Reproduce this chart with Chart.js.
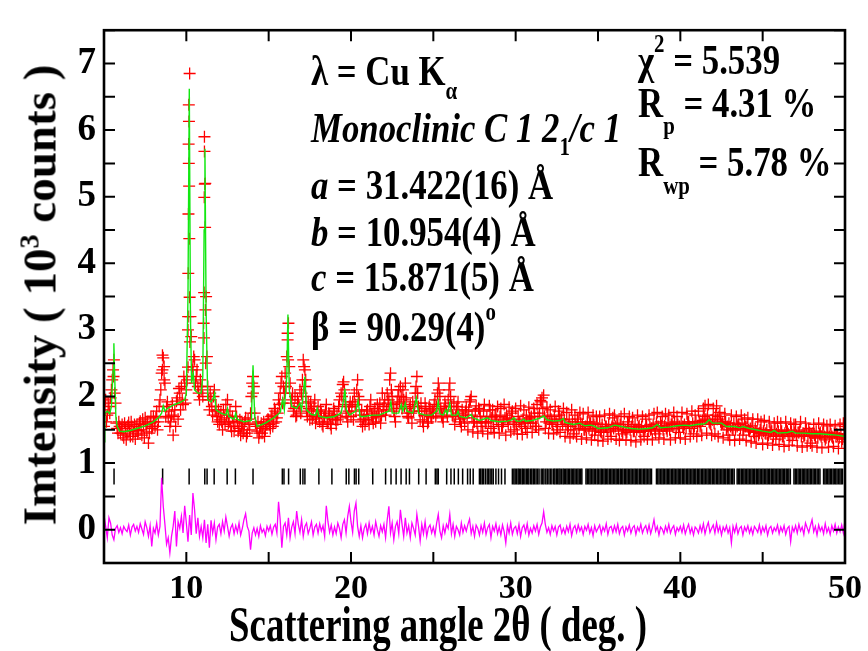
<!DOCTYPE html>
<html>
<head>
<meta charset="utf-8">
<script src="https://cdn.jsdelivr.net/npm/chart.js@4.4.1/dist/chart.umd.min.js"></script>
<style>
  html, body { margin: 0; padding: 0; background: #fff; }
  #wrap { position: relative; width: 868px; height: 651px; overflow: hidden; }
  #xrd { position: absolute; left: 0; top: 0; width: 868px; height: 651px; }
  .t {
    position: absolute; white-space: nowrap; color: #000;
    font-family: "Liberation Serif", "Times New Roman", serif;
    font-weight: bold; font-size: 40px; line-height: 1;
    transform-origin: 0 33.5px; transform: scale(0.87, 1.08);
  }
  .it { font-style: italic; }
  .sb { position: relative; font-size: 0.6em; }
  .xt {
    position: absolute; white-space: nowrap; color: #000;
    font-family: "Liberation Serif", "Times New Roman", serif;
    font-weight: bold; font-size: 46px; line-height: 1;
    left: 438px; top: 602.5px;
    transform-origin: 50% 38.5px; transform: translateX(-50%) scale(0.8, 1.12);
  }
  .yt {
    position: absolute; white-space: nowrap; color: #000;
    font-family: "Liberation Serif", "Times New Roman", serif;
    font-weight: bold; font-size: 47px; line-height: 1;
    left: 40px; top: 295px;
    transform: translate(-50%, -50%) rotate(-90deg);
  }
</style>
</head>
<body>
<div id="wrap">
  <canvas id="xrd" width="868" height="651"></canvas>

  <div class="t" style="left:311px;top:51.5px">λ = Cu K<span class="sb" style="top:13px">α</span></div>
  <div class="t it" style="left:311px;top:108.5px">Monoclinic C 1 2<span class="sb" style="top:12px;font-style:normal">1</span>/c 1</div>
  <div class="t" style="left:311px;top:166px"><i>a</i> = 31.422(16) Å</div>
  <div class="t" style="left:311px;top:212.5px"><i>b</i> = 10.954(4) Å</div>
  <div class="t" style="left:311px;top:257.5px"><i>c</i> = 15.871(5) Å</div>
  <div class="t" style="left:311px;top:307.5px">β = 90.29(4)<span class="sb" style="top:-19px">o</span></div>

  <div class="t" style="left:638px;top:40.5px">χ<span class="sb" style="top:-20px">2</span> = 5.539</div>
  <div class="t" style="left:638px;top:83.5px">R<span class="sb" style="top:16px">p</span> = 4.31 %</div>
  <div class="t" style="left:638px;top:142.5px">R<span class="sb" style="top:17px">wp</span> = 5.78 %</div>

  <div class="xt">Scattering angle 2θ ( deg. )</div>
  <div class="yt">Imtensity ( 10<span class="sb" style="top:-17px">3</span> counts )</div>
</div>

<script>
// calculated profile, [2theta, 10^3 counts]
const calcCurve = [
  [5.00,1.32],[5.05,1.75],[5.20,1.78],[5.35,1.74],[5.45,1.85],[5.55,2.40],[5.60,2.80],[5.65,2.30],[5.72,1.70],[5.80,1.55],
  [5.95,1.48],[6.20,1.47],[6.60,1.49],[7.00,1.52],[7.50,1.56],[8.00,1.62],[8.30,1.68],[8.50,1.75],[8.60,1.86],[8.70,1.78],
  [8.85,1.82],[9.20,1.87],[9.60,1.91],[9.90,1.95],[10.00,2.05],[10.10,3.50],[10.18,6.62],[10.25,3.20],[10.32,2.20],[10.42,2.35],
  [10.50,2.10],[10.70,2.05],[10.90,2.05],[11.00,2.30],[11.08,4.50],[11.13,5.72],[11.20,3.30],[11.30,1.95],[11.50,1.92],[11.65,1.98],
  [11.72,2.05],[11.80,1.80],[12.10,1.75],[12.40,1.72],[12.50,1.82],[12.58,1.70],[12.90,1.66],[13.00,1.75],[13.08,1.66],[13.50,1.62],
  [13.95,1.64],[14.05,2.47],[14.15,1.70],[14.30,1.55],[14.80,1.60],[15.30,1.68],[15.70,1.76],[15.85,1.96],[15.95,1.80],[16.10,2.30],
  [16.17,3.23],[16.25,2.10],[16.40,1.85],[16.70,1.82],[16.90,1.90],[17.00,1.80],[17.20,2.30],[17.30,1.80],[17.60,1.73],[17.85,1.72],
  [17.95,1.82],[18.05,1.70],[18.50,1.68],[19.00,1.70],[19.40,1.75],[19.55,1.95],[19.63,2.12],[19.72,1.80],[19.90,1.72],[20.30,1.78],
  [20.43,1.94],[20.55,1.70],[20.80,1.70],[21.30,1.72],[21.70,1.72],[22.00,1.75],[22.30,1.78],[22.42,1.92],[22.50,1.75],[22.90,1.75],
  [23.05,1.88],[23.15,1.78],[23.30,1.90],[23.40,1.78],[23.75,1.75],[23.97,1.98],[24.10,1.75],[24.50,1.72],[24.90,1.72],[25.20,1.78],
  [25.30,1.93],[25.40,1.74],[25.60,1.72],[25.75,1.80],[25.85,1.74],[26.00,1.90],[26.10,1.72],[26.40,1.72],[26.50,1.78],[26.60,1.70],
  [27.00,1.68],[27.30,1.73],[27.40,1.68],[27.80,1.64],[28.30,1.68],[28.50,1.64],[29.00,1.62],[29.50,1.63],[29.75,1.65],[29.90,1.68],
  [30.05,1.63],[30.30,1.63],[30.50,1.66],[30.60,1.63],[31.00,1.64],[31.50,1.68],[31.70,1.71],[31.90,1.65],[32.30,1.63],[32.70,1.64],
  [32.90,1.67],[33.00,1.61],[33.50,1.58],[33.90,1.60],[34.20,1.56],[34.60,1.57],[34.80,1.55],[35.00,1.52],[35.60,1.53],[36.00,1.57],
  [36.20,1.56],[36.60,1.54],[37.00,1.52],[37.50,1.51],[38.00,1.52],[38.30,1.53],[38.60,1.58],[38.80,1.53],[39.30,1.54],[39.80,1.56],
  [40.30,1.57],[40.60,1.56],[41.00,1.58],[41.50,1.59],[41.75,1.65],[41.95,1.60],[42.50,1.60],[42.80,1.55],[43.30,1.55],[43.60,1.53],
  [43.80,1.55],[44.20,1.52],[44.60,1.50],[45.00,1.48],[45.50,1.46],[45.70,1.49],[45.90,1.45],[46.50,1.46],[46.80,1.48],[47.00,1.45],
  [47.50,1.45],[48.00,1.44],[48.50,1.44],[49.00,1.43],[49.50,1.42],[50.00,1.40]
];

// observed counts on the 0.1 deg grid from 5 to 50 deg
const obsStart = 5.0;
const obsStep = 0.1;
const obsCounts = [
  1.55,1.95,1.72,1.85,1.98,2.25,2.55,1.90,1.52,1.62,
  1.45,1.58,1.38,1.52,1.44,1.61,1.40,1.55,1.47,1.36,
  1.58,1.49,1.63,1.42,1.55,1.68,1.47,1.30,1.60,1.52,
  1.70,1.55,1.78,1.62,1.95,2.35,2.58,2.20,1.85,1.68,
  1.55,1.72,1.42,1.80,1.93,1.66,2.05,2.15,1.88,2.20,
  2.10,3.00,6.85,2.90,2.45,2.55,2.30,2.15,1.95,2.10,
  2.00,5.90,3.50,2.15,1.80,1.95,1.72,2.10,1.85,1.62,
  1.58,1.75,1.50,1.68,1.88,1.95,1.62,1.55,1.70,1.48,
  1.85,1.62,1.52,1.42,1.60,1.50,1.68,1.45,1.58,1.75,
  2.20,2.15,1.60,1.48,1.38,1.55,1.45,1.62,1.50,1.58,
  1.65,1.52,1.72,1.60,1.78,1.68,1.95,2.05,2.30,2.15,
  2.35,2.60,3.10,2.20,1.95,1.78,2.00,1.72,1.90,2.10,
  2.05,2.55,2.15,1.78,1.92,1.65,1.80,1.72,1.95,1.68,
  1.85,1.62,1.75,1.55,1.70,1.88,1.60,1.72,1.52,1.66,
  1.78,1.58,1.65,1.95,2.05,2.18,2.10,1.75,1.62,1.85,
  1.70,1.92,2.05,1.78,2.25,1.95,1.62,1.55,1.72,1.65,
  1.80,1.58,1.95,1.68,1.75,1.62,1.88,1.70,1.60,2.05,
  1.85,1.72,2.05,1.95,2.35,2.00,1.78,1.62,1.90,2.10,
  2.15,1.82,1.95,2.20,1.75,1.68,1.88,1.60,1.78,2.05,
  2.30,1.85,1.65,1.78,1.55,1.90,1.72,1.62,1.80,1.68,
  1.75,1.95,1.85,2.20,2.00,1.72,1.62,1.90,1.78,1.95,
  2.20,1.85,1.70,1.58,1.80,1.92,1.66,1.55,1.72,1.60,
  1.84,1.50,1.92,2.00,1.47,1.62,1.86,1.45,1.80,1.55,
  1.48,1.88,1.62,1.44,1.86,1.52,1.80,1.46,1.70,1.85,
  1.45,1.82,1.55,1.88,1.42,1.66,1.84,1.47,1.78,1.50,
  1.82,1.44,1.62,1.86,1.43,1.80,1.52,1.46,1.84,1.60,
  1.46,1.82,1.55,1.88,1.50,1.94,1.98,2.02,1.52,1.84,
  1.45,1.80,1.62,1.44,1.85,1.50,1.78,1.46,1.66,1.82,
  1.40,1.76,1.55,1.38,1.80,1.44,1.72,1.40,1.62,1.76,
  1.36,1.74,1.50,1.38,1.76,1.62,1.35,1.72,1.42,1.70,
  1.34,1.70,1.46,1.33,1.72,1.55,1.36,1.74,1.40,1.68,
  1.72,1.36,1.58,1.34,1.70,1.44,1.74,1.35,1.62,1.70,
  1.34,1.68,1.48,1.32,1.72,1.56,1.35,1.70,1.40,1.66,
  1.36,1.72,1.50,1.35,1.74,1.44,1.76,1.38,1.62,1.70,
  1.36,1.74,1.48,1.72,1.35,1.60,1.76,1.38,1.70,1.46,
  1.38,1.76,1.52,1.36,1.74,1.62,1.40,1.78,1.44,1.72,
  1.40,1.78,1.55,1.42,1.82,1.86,1.45,1.88,1.60,1.42,
  1.82,1.44,1.86,1.40,1.76,1.58,1.38,1.74,1.50,1.42,
  1.35,1.72,1.50,1.34,1.70,1.58,1.36,1.72,1.42,1.66,
  1.34,1.68,1.48,1.32,1.66,1.40,1.30,1.66,1.45,1.62,
  1.28,1.64,1.44,1.30,1.62,1.50,1.27,1.60,1.36,1.62,
  1.28,1.60,1.40,1.25,1.62,1.48,1.27,1.60,1.34,1.58,
  1.58,1.26,1.46,1.62,1.24,1.40,1.60,1.26,1.52,1.30,
  1.26,1.58,1.38,1.24,1.60,1.46,1.23,1.58,1.35,1.56,
  1.24,1.58,1.40,1.25,1.56,1.44,1.22,1.58,1.32,1.60,
  1.55
];

// observed counts at the half-step points, 5.05 to 49.95 deg
const obsCountsMid = [
  1.80,1.62,1.90,1.75,2.10,2.40,2.05,1.60,1.45,1.55,
  1.52,1.42,1.60,1.35,1.56,1.48,1.62,1.40,1.58,1.50,
  1.44,1.60,1.50,1.66,1.38,1.58,1.62,1.45,1.70,1.55,
  1.62,1.68,1.50,1.85,2.10,2.62,2.45,1.70,1.92,1.78,
  1.62,1.88,1.70,1.55,1.98,2.12,1.80,1.95,2.30,1.90,
  2.25,5.50,3.20,2.40,2.60,2.20,2.40,2.05,2.25,2.15,
  3.10,5.20,2.60,1.95,2.05,1.85,2.00,1.78,1.70,1.80,
  1.65,1.62,1.80,1.58,1.72,1.60,1.78,1.48,1.62,1.55,
  1.70,1.48,1.65,1.55,1.45,1.62,1.40,1.66,1.50,2.00,
  2.30,1.75,1.55,1.62,1.45,1.60,1.52,1.40,1.58,1.66,
  1.58,1.70,1.55,1.82,1.62,1.75,1.88,2.20,1.90,2.05,
  2.15,2.95,2.45,1.90,2.05,1.82,1.70,1.95,1.85,1.75,
  2.25,2.45,2.00,1.70,1.82,1.90,1.66,1.85,1.60,1.78,
  1.70,1.80,1.58,1.68,1.78,1.62,1.75,1.58,1.70,1.82,
  1.65,1.72,1.85,1.68,2.00,2.22,1.88,1.70,1.78,1.92,
  1.85,1.65,1.88,2.10,2.00,1.72,1.80,1.66,1.58,1.78,
  1.65,1.85,1.72,1.60,1.82,1.70,1.78,1.90,1.72,1.80,
  1.95,1.80,1.90,2.25,2.10,1.88,1.70,1.82,2.00,1.92,
  2.00,2.10,1.85,1.98,1.70,1.82,1.75,1.92,1.85,2.15,
  2.05,1.78,1.90,1.62,1.72,1.82,1.60,1.85,1.70,1.78,
  1.88,1.70,2.05,2.10,1.82,1.68,1.80,1.85,1.70,2.10,
  2.00,1.72,1.90,1.70,1.85,1.75,1.62,1.80,1.68,1.78,
  1.68,1.80,1.95,1.72,1.62,1.78,1.60,1.82,1.70,1.62,
  1.78,1.60,1.70,1.62,1.80,1.68,1.55,1.72,1.65,1.58,
  1.70,1.55,1.62,1.68,1.72,1.58,1.66,1.75,1.62,1.58,
  1.58,1.70,1.62,1.55,1.66,1.60,1.72,1.62,1.68,1.70,
  1.60,1.75,1.55,1.70,1.75,1.92,1.82,1.70,1.62,1.72,
  1.60,1.66,1.58,1.70,1.62,1.55,1.72,1.66,1.58,1.65,
  1.58,1.50,1.66,1.55,1.62,1.50,1.58,1.66,1.52,1.60,
  1.58,1.50,1.55,1.62,1.52,1.60,1.48,1.58,1.50,1.60,
  1.52,1.48,1.58,1.46,1.55,1.50,1.58,1.48,1.55,1.52,
  1.55,1.60,1.50,1.58,1.48,1.55,1.50,1.46,1.58,1.50,
  1.55,1.48,1.58,1.50,1.54,1.46,1.55,1.48,1.50,1.56,
  1.48,1.55,1.52,1.58,1.50,1.60,1.55,1.48,1.56,1.50,
  1.56,1.52,1.60,1.50,1.58,1.55,1.62,1.52,1.58,1.55,
  1.60,1.55,1.58,1.52,1.62,1.55,1.52,1.60,1.55,1.62,
  1.55,1.62,1.58,1.64,1.70,1.66,1.72,1.62,1.58,1.65,
  1.60,1.72,1.66,1.70,1.62,1.60,1.58,1.62,1.55,1.60,
  1.55,1.52,1.60,1.50,1.55,1.58,1.52,1.60,1.50,1.55,
  1.55,1.50,1.52,1.56,1.46,1.52,1.48,1.42,1.50,1.45,
  1.48,1.45,1.50,1.42,1.46,1.48,1.40,1.50,1.44,1.48,
  1.42,1.48,1.40,1.45,1.50,1.44,1.40,1.48,1.42,1.46,
  1.42,1.46,1.48,1.40,1.45,1.42,1.50,1.40,1.46,1.42,
  1.45,1.42,1.48,1.38,1.44,1.40,1.46,1.40,1.38,1.46,
  1.40,1.44,1.38,1.45,1.40,1.42,1.38,1.44,1.36,1.42
];

// extra observed points on the steep sides of the strong peaks
const obsPeakPoints = [
  [10.15,6.38],[10.16,6.13],[10.14,5.79],[10.17,5.16],[10.13,4.74],[10.18,4.37],[10.12,3.85],[10.20,3.49],
  [10.11,3.20],[10.22,2.82],[10.10,2.44],[11.10,5.68],[11.12,5.19],[11.09,4.99],[11.14,4.54],[11.08,3.56],
  [11.16,3.30],[11.07,2.88],[11.18,2.50],[16.15,2.85],[16.18,2.55],[5.58,2.30],[8.55,2.40],[8.65,2.25],
  [14.05,2.05],[17.20,2.40],[17.25,2.25]
];

// difference curve (obs - calc), same grid as obsCounts
const diffCounts = [
  0.22,0.05,-0.12,0.18,0.10,-0.08,-0.15,0.02,0.06,-0.04,
  0.03,-0.06,0.05,0.00,-0.03,0.07,-0.08,0.04,0.08,-0.02,
  0.05,-0.04,0.09,0.01,-0.07,0.12,0.03,-0.10,0.06,-0.25,
  0.02,-0.05,0.10,-0.08,0.05,0.78,0.35,0.08,-0.22,-0.12,
  -0.35,-0.10,0.05,0.28,-0.25,0.12,0.02,0.20,-0.05,0.36,
  0.10,-0.18,0.22,-0.08,0.55,0.30,-0.06,0.18,-0.10,0.05,
  -0.12,0.15,-0.20,0.08,-0.27,0.14,-0.05,0.10,-0.15,0.04,
  0.08,-0.06,0.12,-0.02,0.19,0.05,-0.10,0.03,0.08,-0.06,
  0.06,-0.04,0.10,-0.08,0.02,0.15,0.24,0.05,-0.02,-0.30,
  -0.05,0.03,-0.08,0.02,-0.10,0.06,-0.04,0.01,-0.09,0.05,
  -0.02,0.06,-0.07,0.04,0.08,-0.05,0.42,0.15,-0.27,0.05,
  0.10,-0.08,0.18,-0.12,0.04,0.12,-0.06,0.28,0.08,-0.04,
  0.15,-0.10,0.05,0.10,-0.06,0.02,0.12,-0.08,0.04,0.08,
  -0.05,0.09,-0.02,0.06,-0.10,0.36,0.12,-0.04,0.07,-0.08,
  0.04,-0.06,0.10,0.02,-0.12,0.08,0.15,-0.05,0.20,0.35,
  0.12,-0.04,0.28,0.40,0.05,-0.10,0.06,-0.12,0.02,0.08,
  -0.06,0.10,-0.04,0.05,-0.08,0.12,0.00,-0.10,0.06,-0.03,
  0.08,-0.12,0.15,0.35,-0.05,0.10,-0.15,0.05,0.12,-0.06,
  0.30,0.08,-0.10,0.18,-0.05,0.06,-0.12,0.10,0.02,-0.08,
  0.23,0.05,-0.17,0.08,-0.06,0.12,-0.10,0.03,0.07,-0.05,
  0.04,-0.08,0.10,0.23,-0.02,-0.12,0.06,-0.05,0.08,0.02,
  0.23,-0.06,0.08,-0.10,0.05,0.00,-0.08,0.10,-0.04,0.06,
  -0.02,0.08,0.16,-0.06,0.05,-0.10,0.07,0.02,-0.08,0.06,
  -0.04,0.10,-0.07,0.03,0.08,-0.12,0.05,-0.02,0.09,-0.06,
  0.04,-0.08,0.07,-0.03,-0.20,0.06,-0.05,0.10,-0.07,0.02,
  0.05,-0.06,0.08,-0.10,0.03,0.07,-0.04,0.09,-0.08,0.02,
  -0.05,0.06,-0.02,0.08,-0.07,0.04,0.10,0.27,0.08,-0.04,
  0.03,-0.07,0.06,-0.02,0.05,-0.08,0.04,0.07,-0.05,0.02,
  -0.06,0.05,-0.03,0.08,-0.09,0.02,0.06,-0.04,0.07,-0.02,
  0.04,-0.07,0.05,-0.01,0.08,-0.05,0.03,-0.09,0.06,-0.03,
  0.02,0.07,-0.06,0.04,-0.02,0.09,-0.07,0.03,0.05,-0.04,
  0.06,-0.03,0.08,-0.06,0.02,0.05,-0.08,0.04,-0.02,0.07,
  -0.05,0.03,0.06,-0.07,0.04,-0.02,0.08,-0.05,0.02,0.06,
  -0.04,0.07,-0.06,0.03,0.15,-0.02,0.05,-0.08,0.04,0.01,
  -0.06,0.05,-0.03,0.08,-0.05,0.02,0.06,-0.07,0.03,-0.02,
  0.05,-0.04,0.07,-0.06,0.02,0.08,-0.05,0.03,-0.08,0.04,
  0.01,-0.05,0.06,-0.03,0.09,-0.06,0.04,0.11,-0.04,0.02,
  0.07,-0.05,0.10,-0.03,0.05,-0.08,0.04,-0.02,0.06,-0.05,
  0.03,-0.20,0.05,-0.04,0.07,-0.06,0.02,0.05,-0.08,0.04,
  -0.02,0.06,-0.05,0.03,-0.07,0.05,0.01,-0.04,0.07,-0.06,
  0.04,-0.03,0.06,-0.08,0.02,0.05,-0.05,0.03,-0.02,0.07,
  -0.06,0.04,-0.03,0.06,-0.07,0.02,0.05,-0.18,0.04,-0.03,
  0.06,-0.05,0.08,-0.02,0.04,-0.07,0.10,0.03,-0.04,0.06,
  0.15,-0.03,0.05,-0.08,0.07,-0.02,0.04,-0.06,0.09,-0.04,
  0.03,-0.07,0.06,-0.02,0.08,-0.05,0.04,-0.03,0.07,-0.05,
  0.15
];

// Bragg reflection positions (2theta)
const braggPositions = [
  5.61, 8.56, 10.17, 11.12, 11.26, 11.69, 12.48, 12.98, 14.05, 15.83, 15.93, 16.21, 16.92, 17.08, 17.20,
  18.05, 18.84, 19.71, 19.87, 20.21, 20.31, 20.47, 21.32, 22.10, 22.43, 22.74, 23.04, 23.35, 23.55, 24.11,
  24.56, 25.12, 25.22, 25.30, 25.81, 26.07, 26.27, 26.52, 26.78, 27.08, 27.24, 27.42,
  27.80, 27.88, 27.97, 28.05, 28.16, 28.27, 28.36, 28.45, 28.55, 28.64, 28.80, 28.96, 29.14, 29.35,
  29.80, 29.89, 29.97, 30.06, 30.15, 30.22, 30.31, 30.40, 30.47, 30.56, 30.65, 30.73, 30.80, 30.90,
  30.98, 31.07, 31.15, 31.24, 31.33, 31.42, 31.55, 31.64, 31.72, 31.83, 31.92, 32.02, 32.11, 32.20,
  32.31, 32.38, 32.47, 32.55, 32.63, 32.70, 32.79, 32.88, 32.95, 33.04, 33.12, 33.20, 33.28, 33.37,
  33.45, 33.53, 33.61, 33.70, 33.78, 33.86, 33.95, 34.02, 34.27, 34.35, 34.44, 34.52, 34.60, 34.69,
  34.77, 34.86, 34.95, 35.03, 35.12, 35.20, 35.27, 35.36, 35.44, 35.52, 35.60, 35.69, 35.77, 35.85,
  35.93, 36.02, 36.10, 36.18, 36.26, 36.35, 36.43, 36.51, 36.60, 36.68, 36.76, 36.84, 36.93, 37.01,
  37.09, 37.18, 37.26, 37.34, 37.42, 37.51, 37.59, 37.67, 37.76, 37.84, 37.92, 38.00, 38.09, 38.17,
  38.25, 38.55, 38.63, 38.71, 38.80, 38.88, 38.96, 39.04, 39.13, 39.21, 39.29, 39.37, 39.46, 39.54,
  39.62, 39.70, 39.79, 39.87, 39.95, 40.03, 40.12, 40.20, 40.28, 40.37, 40.45, 40.53, 40.61, 40.70,
  40.78, 40.86, 40.94, 41.03, 41.11, 41.19, 41.28, 41.36, 41.44, 41.52, 41.61, 41.69, 41.77, 41.85,
  41.94, 42.02, 42.10, 42.19, 42.27, 42.35, 42.43, 42.52, 42.60, 42.68, 42.76, 42.85, 42.93, 43.01,
  43.10, 43.18, 43.27, 43.45, 43.53, 43.61, 43.70, 43.78, 43.86, 43.94, 44.03, 44.11, 44.19, 44.28,
  44.36, 44.44, 44.52, 44.61, 44.69, 44.77, 44.85, 44.94, 45.02, 45.10, 45.19, 45.27, 45.35, 45.43,
  45.52, 45.60, 45.68, 45.76, 45.85, 45.93, 46.01, 46.10, 46.18, 46.26, 46.34, 46.43, 46.51, 46.59,
  46.68, 46.90, 46.98, 47.06, 47.15, 47.23, 47.31, 47.40, 47.48, 47.56, 47.64, 47.73, 47.81, 47.89,
  47.97, 48.06, 48.14, 48.22, 48.31, 48.40, 48.48, 48.70, 48.78, 48.86, 48.95, 49.03, 49.11, 49.19,
  49.28, 49.36, 49.44, 49.52, 49.61, 49.69, 49.77, 49.85
];

// tick labels
const xTickLabels = [10, 20, 30, 40, 50];
const yTickLabels = [0, 1, 2, 3, 4, 5, 6, 7];

const gridX = i => +(obsStart + i * obsStep).toFixed(2);
const midX = i => +(obsStart + (i + 0.5) * obsStep).toFixed(2);

const obsData = obsCounts.map((v, i) => ({ x: gridX(i), y: v }))
  .concat(obsCountsMid.map((v, i) => ({ x: midX(i), y: v })))
  .concat(obsPeakPoints.map(p => ({ x: p[0], y: p[1] })));
const calcData = calcCurve.map(p => ({ x: p[0], y: p[1] }));
const diffData = diffCounts.map((v, i) => ({ x: gridX(i), y: v }));
const braggRow = 0.8; // height of the reflection marker row
const braggData = braggPositions.map(x => ({ x: x, y: braggRow }));

// frame round the plot with inward ticks on all four sides
const frameTicks = {
  id: 'frameTicks',
  afterDraw(chart) {
    const { ctx, chartArea: a, scales: { x, y } } = chart;
    const len = 11;
    ctx.save();
    ctx.strokeStyle = '#000';
    ctx.lineWidth = 2;
    ctx.beginPath();
    x.ticks.forEach(t => {
      const px = x.getPixelForValue(t.value);
      ctx.moveTo(px, a.bottom); ctx.lineTo(px, a.bottom - len);
      ctx.moveTo(px, a.top); ctx.lineTo(px, a.top + len);
    });
    y.ticks.forEach(t => {
      const py = y.getPixelForValue(t.value);
      ctx.moveTo(a.left, py); ctx.lineTo(a.left + len, py);
      ctx.moveTo(a.right, py); ctx.lineTo(a.right - len, py);
    });
    ctx.stroke();
    ctx.lineWidth = 2.6;
    ctx.strokeRect(a.left, a.top, a.right - a.left, a.bottom - a.top);
    ctx.restore();
  }
};

const serif = "'Liberation Serif', 'Times New Roman', serif";

new Chart(document.getElementById('xrd'), {
  type: 'scatter',
  data: {
    datasets: [
      {
        label: 'Calculated',
        type: 'line',
        data: calcData,
        borderColor: '#12e812',
        borderWidth: 1.4,
        pointRadius: 0,
        tension: 0,
        order: 0
      },
      {
        label: 'Observed',
        data: obsData,
        pointStyle: 'cross',
        pointRadius: 6,
        borderColor: '#ff0000',
        borderWidth: 1.3,
        order: 1
      },
      {
        label: 'Difference',
        type: 'line',
        data: diffData,
        borderColor: '#ff00ff',
        borderWidth: 1.3,
        pointRadius: 0,
        tension: 0,
        order: 2
      },
      {
        label: 'Bragg positions',
        data: braggData,
        pointStyle: 'line',
        rotation: 90,
        pointRadius: 8,
        borderColor: '#000',
        borderWidth: 1.5,
        order: 3
      }
    ]
  },
  options: {
    responsive: false,
    devicePixelRatio: 1,
    animation: false,
    events: [],
    layout: { padding: { top: 20, right: 22, left: 0, bottom: 0 } },
    plugins: {
      legend: { display: false },
      tooltip: { enabled: false }
    },
    scales: {
      x: {
        type: 'linear',
        min: 5,
        max: 50,
        afterFit: s => { s.height = 88; },
        grid: { display: false, drawTicks: false },
        border: { display: false },
        ticks: {
          stepSize: 5,
          padding: 6,
          maxRotation: 0,
          autoSkip: false,
          color: '#000',
          font: { family: serif, weight: 'bold', size: 34 },
          callback: v => xTickLabels.includes(v) ? String(v) : ''
        }
      },
      y: {
        type: 'linear',
        min: -0.5,
        max: 7.5,
        afterFit: s => { s.width = 104; },
        grid: { display: false, drawTicks: false },
        border: { display: false },
        ticks: {
          stepSize: 0.5,
          padding: 8,
          autoSkip: false,
          color: '#000',
          font: { family: serif, weight: 'bold', size: 37 },
          callback: v => yTickLabels.includes(v) ? String(v) : ''
        }
      }
    }
  },
  plugins: [frameTicks]
});
</script>
</body>
</html>
